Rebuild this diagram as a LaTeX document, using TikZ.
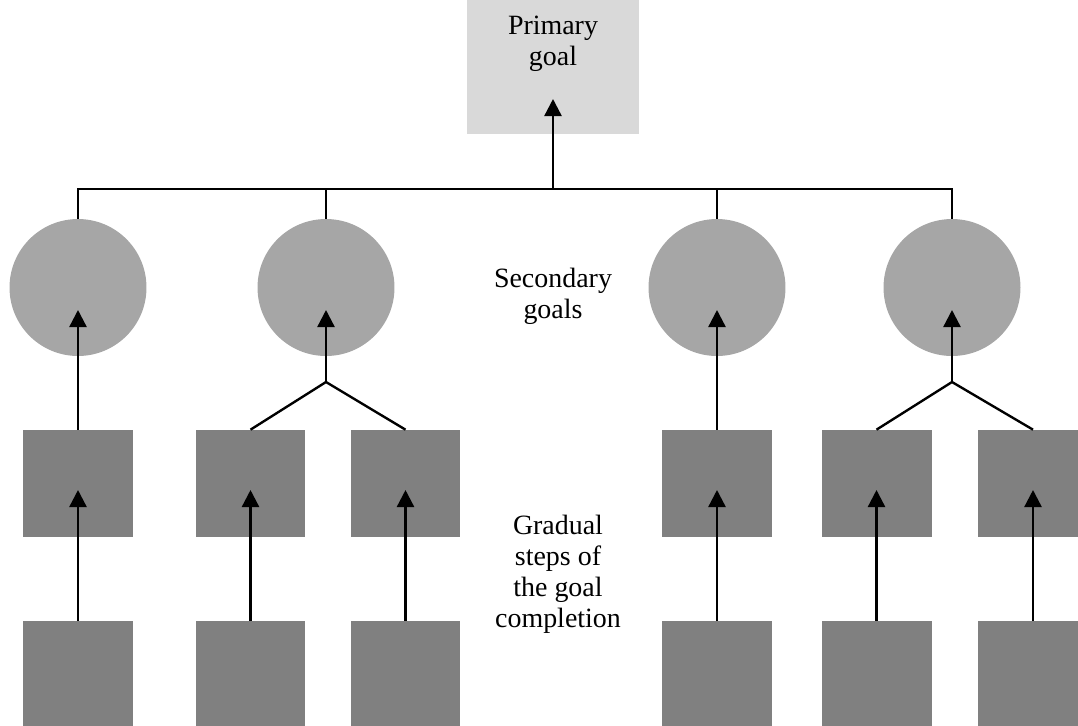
\documentclass[tikz,border=0pt]{standalone}
\usepackage{fontspec}
\setmainfont{Liberation Serif}
\usepackage{tikz}
\usetikzlibrary{arrows.meta, positioning, calc}
\definecolor{goallight}{HTML}{D9D9D9}
\definecolor{goalmid}{HTML}{A6A6A6}
\definecolor{goaldark}{HTML}{808080}

\begin{document}
\begin{tikzpicture}[
  x=0.02cm, y=-0.02cm,
  primary/.style={fill=goallight, minimum width=3.44cm, minimum height=2.68cm,
    inner sep=0pt},
  secondary/.style={circle, fill=goalmid, minimum size=2.74cm, inner sep=0pt},
  stepbox/.style={fill=goaldark, minimum width=2.2cm, minimum height=2.14cm,
    inner sep=0pt},
  caption/.style={align=center, font=\fontsize{15.9}{17.6}\selectfont,
    inner sep=0pt},
  link/.style={line width=1.35pt},
  >={Triangle[width=0.34cm, length=0.34cm]}
]
  \useasboundingbox (0,0) rectangle (1078,725);

  % Primary goal
  \node[primary, label={[caption, anchor=center, yshift=0.47cm]center:Primary\\goal}]
    (prim) at (553, 67) {};

  % Secondary goals
  \foreach \i/\x in {1/78, 2/326, 3/717, 4/952} {
    \node[secondary] (sec\i) at (\x, 287.5) {};
  }

  % Steps, two rows
  \foreach \i/\x in {1/78, 2/250.5, 3/405.5, 4/717, 5/876.5, 6/1033} {
    \node[stepbox] (up\i) at (\x, 483.5) {};
    \node[stepbox] (lo\i) at (\x, 674.5) {};
    \draw[link, ->, shorten >=0.13cm] (lo\i) -- (up\i.center);
  }

  % Bar under the primary goal
  \coordinate (bar) at (prim.south |- 0,189);
  \draw[link] (sec1.north) |- (bar) -| (sec4.north);
  \draw[link] (sec2) -- (sec2 |- bar);
  \draw[link] (sec3) -- (sec3 |- bar);
  \draw[link, ->, shorten >=0.64cm] (bar) -- (prim.center);

  % Steps to secondary goals
  \draw[link, ->, shorten >=0.45cm] (up1) -- (sec1.center);
  \draw[link, ->, shorten >=0.45cm] (up4) -- (sec3.center);
  \coordinate (fork2) at (sec2 |- 0,382);
  \coordinate (fork4) at (sec4 |- 0,382);
  \draw[link] (up2.north) -- (fork2) -- (up3.north);
  \draw[link] (up5.north) -- (fork4) -- (up6.north);
  \draw[link, ->, shorten >=0.45cm] (fork2) -- (sec2.center);
  \draw[link, ->, shorten >=0.45cm] (fork4) -- (sec4.center);

  % Labels
  \node[caption] (secText) at (553, 296) {Secondary\\goals};
  \node[caption] (stepText) at (558, 574) {Gradual\\steps of\\the goal\\completion};
\end{tikzpicture}
\end{document}
